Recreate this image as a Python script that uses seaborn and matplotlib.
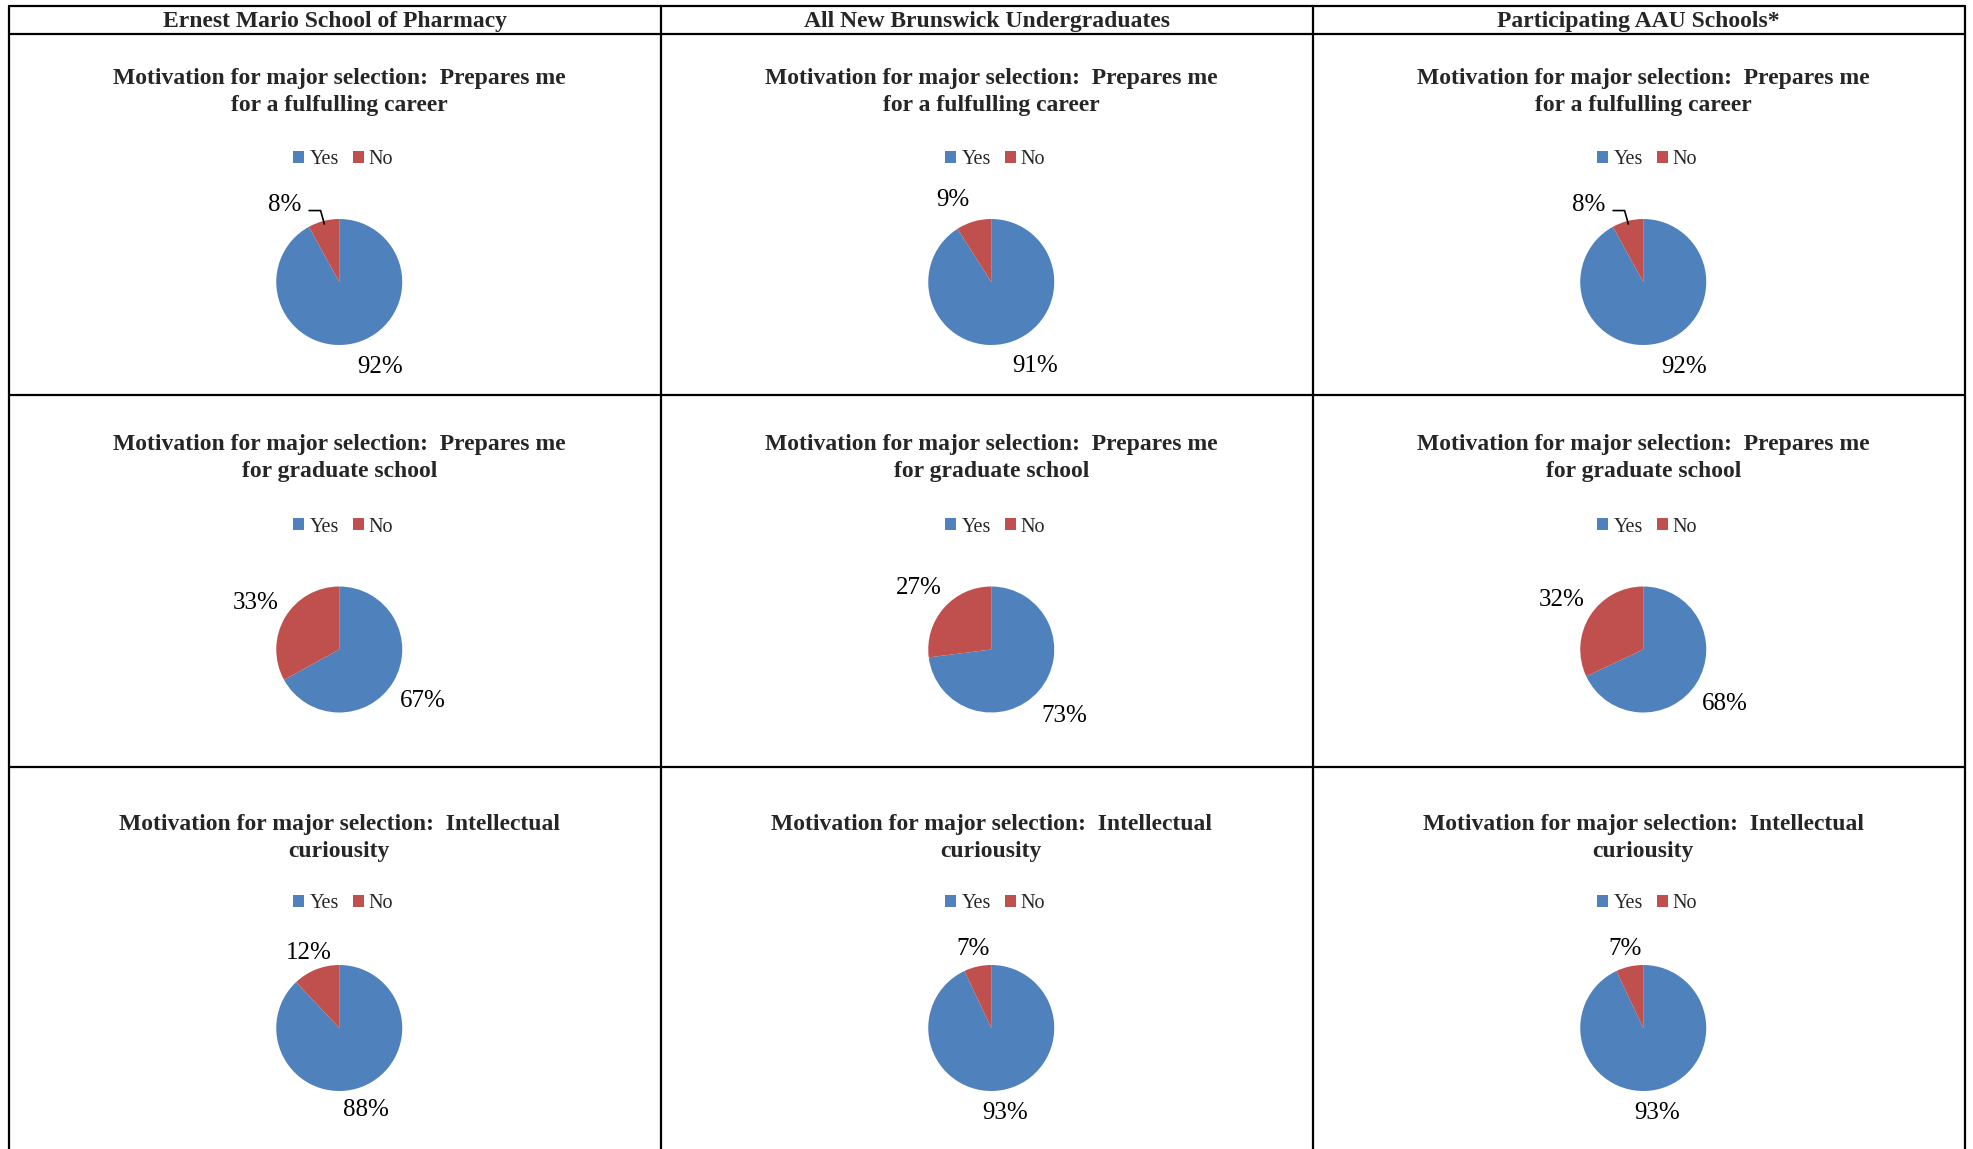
import numpy as np
import pandas as pd
import seaborn as sns
import matplotlib.pyplot as plt
from matplotlib.lines import Line2D
from matplotlib.patches import Patch

# Column headers (comparison groups)
groups = [
    "Ernest Mario School of Pharmacy",
    "All New Brunswick Undergraduates",
    "Participating AAU Schools*",
]

# Chart titles (one per row)
questions = [
    "Motivation for major selection:  Prepares me\nfor a fulfulling career",
    "Motivation for major selection:  Prepares me\nfor graduate school",
    "Motivation for major selection:  Intellectual\ncuriousity",
]

answers = ["Yes", "No"]

# Percent answering Yes / No, one value per question (row)
pharmacy_yes = [92, 67, 88]
pharmacy_no = [8, 33, 12]
new_brunswick_yes = [91, 73, 93]
new_brunswick_no = [9, 27, 7]
aau_yes = [92, 68, 93]
aau_no = [8, 32, 7]

yes_by_group = [pharmacy_yes, new_brunswick_yes, aau_yes]
no_by_group = [pharmacy_no, new_brunswick_no, aau_no]

# Style
sns.set_style("white")
plt.rcParams["font.family"] = ["Liberation Serif", "DejaVu Serif"]
colors = sns.color_palette(["#4F81BD", "#C0504D"])

W, H = 1973, 1149
fig = plt.figure(figsize=(W / 100, H / 100), dpi=100)
fig.patch.set_facecolor("white")


def fx(x):
    return x / W


def fy(y):
    return 1 - y / H


# Table grid (pixel layout)
col_edges = [8.5, 661, 1312.5, 1965]
top_y = 6
header_bottom = 34
row_edges = [34, 395, 767]

lw = 1.6
for x in col_edges:
    fig.add_artist(Line2D([fx(x), fx(x)], [fy(top_y), 0], color="black", lw=lw))
for y in [top_y, header_bottom] + row_edges[1:]:
    fig.add_artist(Line2D([fx(col_edges[0]), fx(col_edges[-1])], [fy(y), fy(y)],
                          color="black", lw=lw))

# Per-row layout: title block center, legend center, pie center (pixels)
title_y = [92, 458, 838]
legend_y = [159.5, 527, 904]
pie_y = [282, 649.5, 1028]
R = 63  # pie radius in pixels

# Label placement ("best fit" look): distance in radii, turn in degrees
label_dist = [1.47, 1.54, 1.33]
big_turn = [12, 0, -3]
small_turn = {(0, 0): 20, (0, 1): 8, (0, 2): 20}
leader_cells = [(0, 0), (0, 2)]

for c, group in enumerate(groups):
    cell_cx = (col_edges[c] + col_edges[c + 1]) / 2
    cx = cell_cx + 4.5
    fig.text(fx(cell_cx), fy(21), group, ha="center", va="center",
             fontsize=17, fontweight="bold")

    for r, question in enumerate(questions):
        fig.text(fx(cx), fy(title_y[r]), question, ha="center", va="center",
                 fontsize=17, fontweight="bold", linespacing=1.36)

        handles = [Patch(facecolor=colors[i], edgecolor="none", label=answers[i])
                   for i in range(2)]
        fig.legend(handles=handles, loc="center",
                   bbox_to_anchor=(fx(cx + 4), fy(legend_y[r])),
                   ncol=2, frameon=False, fontsize=14.5,
                   handlelength=0.55, handleheight=0.55,
                   handletextpad=0.25, columnspacing=0.7,
                   borderpad=0, borderaxespad=0)

        S = 2 * R
        ax = fig.add_axes([fx(cx - S), fy(pie_y[r] + S), 2 * S / W, 2 * S / H])
        values = [yes_by_group[c][r], no_by_group[c][r]]
        wedges, texts, autotexts = ax.pie(
            values, colors=colors, startangle=90, counterclock=False,
            radius=1, autopct="%.0f%%", pctdistance=label_dist[r],
            wedgeprops=dict(linewidth=0),
            textprops=dict(fontsize=18, color="black", va="center_baseline"))

        # move labels a little around the pie, like Excel's best fit
        for i, (w, t) in enumerate(zip(wedges, autotexts)):
            mid = (w.theta1 + w.theta2) / 2
            turn = big_turn[r] if i == 0 else small_turn.get((r, c), 0)
            d = label_dist[r] if (r, c) not in leader_cells or i == 0 else 1.52
            a = np.deg2rad(mid + turn)
            lx, ly = d * np.cos(a), d * np.sin(a)
            t.set_position((lx, ly))
            if i == 1 and (r, c) in leader_cells:
                m = np.deg2rad(mid)
                ex, ey = 0.95 * np.cos(m), 0.95 * np.sin(m)
                yl = ly - 0.12
                ax.plot([lx + 0.38, ex - 0.06, ex], [yl, yl, ey],
                        color="black", lw=1.2, clip_on=False)

        ax.set_xlim(-2, 2)
        ax.set_ylim(-2, 2)
        ax.axis("off")

fig.savefig("out.png", dpi=100)
